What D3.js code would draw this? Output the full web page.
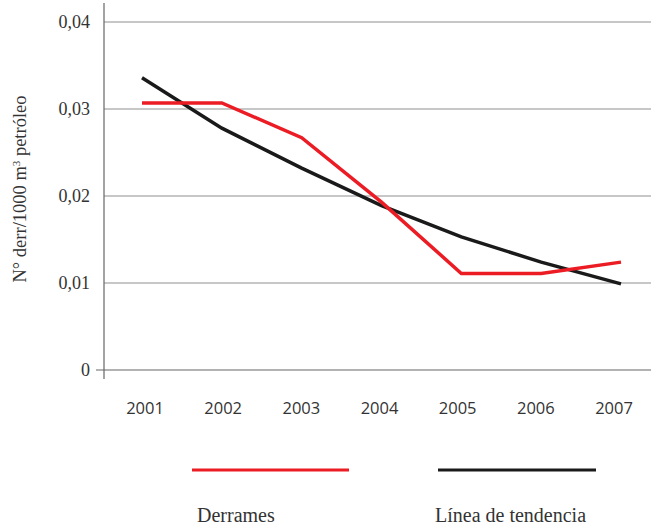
<!DOCTYPE html>
<html><head><meta charset="utf-8">
<script src="https://cdn.jsdelivr.net/npm/d3@7"></script>
<style>body{margin:0;background:#fff}svg{display:block}</style>
</head><body><svg id="c" width="651" height="525"></svg>
<script>
const years = ["2001","2002","2003","2004","2005","2006","2007"];
const derrames = [0.0307,0.0307,0.0267,0.0193,0.0111,0.0111,0.0124];
const tendencia = [0.0336,0.0278,0.0232,0.0189,0.0153,0.0124,0.0099];
const yTicks = [0,0.01,0.02,0.03,0.04];
const yTickLabels = ["0","0,01","0,02","0,03","0,04"];
const seriesNames = ["Derrames","Línea de tendencia"];
const colors = ["#ec1c24","#1a1a1a"];
const SERIF = "'Liberation Serif', 'Times New Roman', serif";
const SANS = "'Open Sans', sans-serif";

const svg = d3.select("#c");
const y = d3.scaleLinear().domain([0,0.04]).range([370,22]);
const x = d3.scalePoint().domain(years).range([142,621]);
const xl = d3.scalePoint().domain(years).range([145,614]);

// gridlines
svg.append("g").selectAll("line").data(yTicks.filter(d=>d>0)).join("line")
  .attr("x1",104).attr("x2",651).attr("y1",d=>y(d)).attr("y2",d=>y(d))
  .attr("stroke","#b5b5b5").attr("stroke-width",1.5);

// axes
svg.append("line").attr("x1",104).attr("x2",104).attr("y1",3).attr("y2",379)
  .attr("stroke","#666").attr("stroke-width",1.2);
svg.append("line").attr("x1",96).attr("x2",651).attr("y1",y(0)).attr("y2",y(0))
  .attr("stroke","#666").attr("stroke-width",1.2);

// y tick labels
svg.append("g").selectAll("text").data(yTicks).join("text")
  .attr("x",90).attr("y",d=>y(d)).attr("dy","0.33em").attr("text-anchor","end")
  .style("font-family",SERIF).style("font-size","18px").attr("fill","#333")
  .text((d,i)=>yTickLabels[i]);

// x tick labels
svg.append("g").selectAll("text").data(years).join("text")
  .attr("x",d=>xl(d)).attr("y",414).attr("text-anchor","middle")
  .style("font-family",SANS).style("font-size","16.5px").attr("fill","#333")
  .text(d=>d);

// y label
svg.append("text").attr("transform","translate(26,189) rotate(-90)")
  .attr("text-anchor","middle").style("font-family",SERIF)
  .style("font-size","18.5px").attr("fill","#333")
  .html("N° derr/1000 m<tspan dy='-6' style='font-size:11px'>3</tspan><tspan dy='6'> petróleo</tspan>");

const line = d3.line().x((d,i)=>x(years[i])).y(d=>y(d));
[tendencia, derrames].forEach((s,k)=>{
  svg.append("path").datum(s).attr("d",line).attr("fill","none")
    .attr("stroke", k===0?colors[1]:colors[0]).attr("stroke-width",3.5)
    .attr("stroke-linejoin","miter");
});

// legend
const lg = [{x1:192,x2:349,tx:197},{x1:438,x2:596,tx:435}];
lg.forEach((l,i)=>{
  svg.append("line").attr("x1",l.x1).attr("x2",l.x2).attr("y1",470).attr("y2",470)
    .attr("stroke",colors[i]).attr("stroke-width",3);
  svg.append("text").attr("x",l.tx).attr("y",522).style("font-family",SERIF)
    .style("font-size","20px").attr("fill","#333").text(seriesNames[i]);
});
</script></body></html>
